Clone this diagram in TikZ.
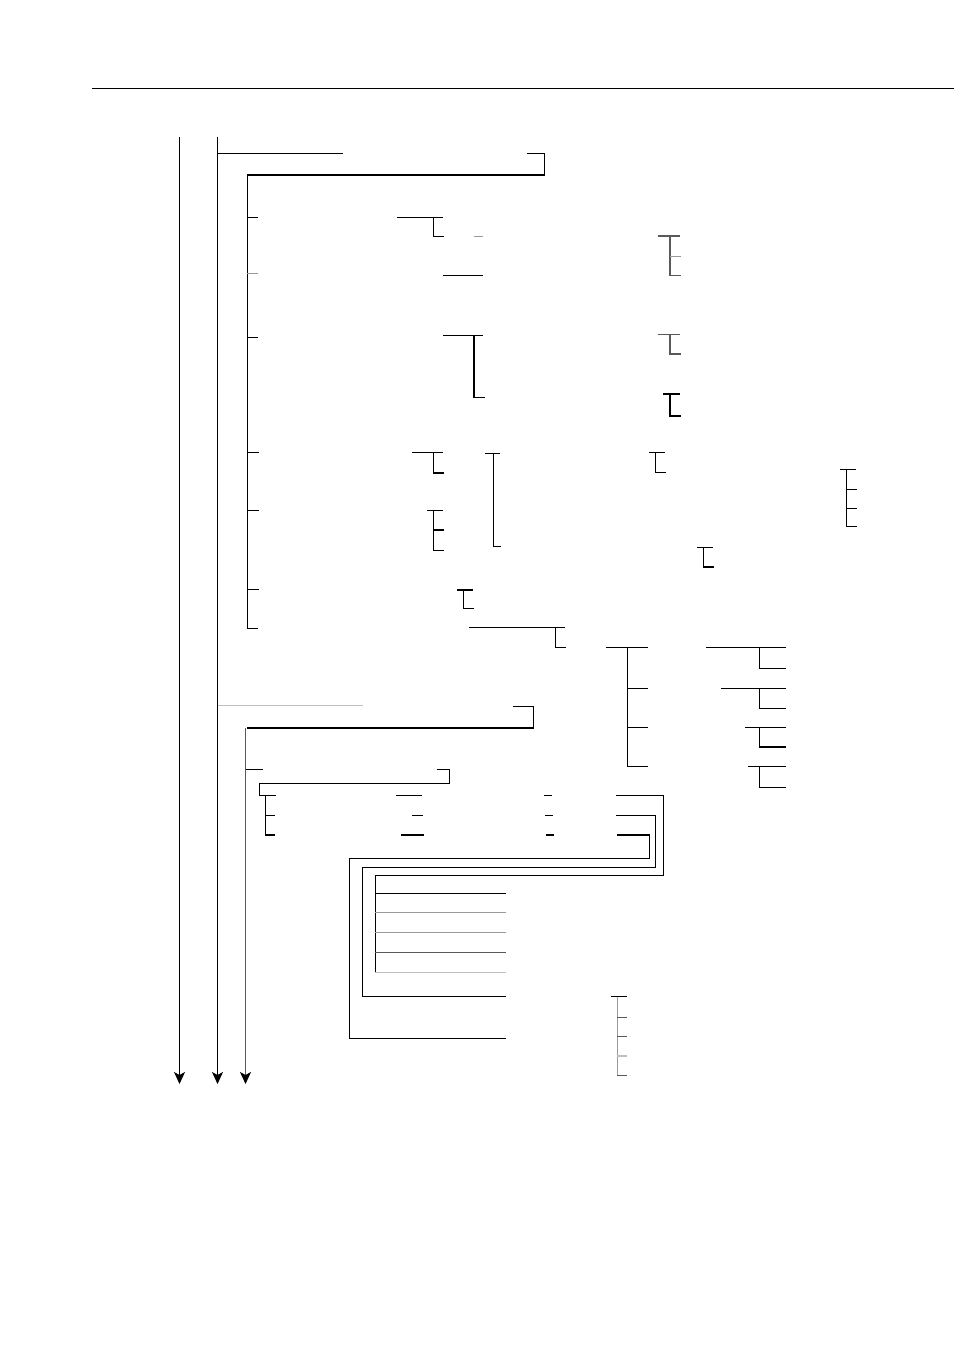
\documentclass[tikz,border=0pt]{standalone}
\usetikzlibrary{arrows.meta}
\definecolor{g1}{gray}{0.35}
\definecolor{g2}{gray}{0.6}
\definecolor{g3}{gray}{0.75}
\begin{document}
\begin{tikzpicture}[x=1pt,y=-1pt,line width=1.2pt,line cap=butt,
  arr/.style={-{Stealth[length=12pt,width=11pt,inset=3pt,color=black]}}]
\useasboundingbox (0,0) rectangle (954,1351);
% top rule
\draw (92,88.5) -- (954,88.5);
% main arrows
\coordinate (a1s) at (179.5,137); \coordinate (a1e) at (179.5,1084);
\coordinate (a2s) at (217.5,137); \coordinate (a2e) at (217.5,1084);
\coordinate (a3s) at (245.5,728); \coordinate (a3e) at (245.5,1084);
\draw[arr] (a1s) -- (a1e);
\draw[arr] (a2s) -- (a2e);
\draw[arr,draw=g1] (a3s) -- (a3e);
% first block
\draw (217.5,153.5) -- (343,153.5);
\draw (527,153.5) -- (544.3,153.5) -- (544.3,175) -- (247.3,175) -- (247.3,628.3) -- (258,628.3);
\draw (247.3,217.3) -- (258,217.3);
\draw (397,217.3) -- (443,217.3);
\draw (433.3,217.3) -- (433.3,236.3) -- (444,236.3);
\draw[g2] (474,236.3) -- (483,236.3);
\draw[g2] (247.3,273.7) -- (258,273.7);
\draw (443,275.3) -- (483,275.3);
% right small brackets
\draw[g1] (657.7,236) -- (680,236);
\draw[g1] (670,236) -- (670,275.3) -- (681,275.3);
\draw[g2] (670,256.7) -- (681,256.7);
\draw (247.3,337.5) -- (258,337.5);
\draw (443.3,335.3) -- (483,335.3);
\draw (474,335.3) -- (474,397.3) -- (485.3,397.3);
\draw[g1] (657.7,334.3) -- (680,334.3);
\draw[g1] (670,334.3) -- (670,354) -- (681,354);
\draw (663.3,394) -- (680,394);
\draw (670,394) -- (670,416) -- (681,416);
% middle section
\draw (247.3,452.3) -- (259,452.3);
\draw (412,452.3) -- (442.7,452.3);
\draw (433.3,452.3) -- (433.3,473) -- (443.7,473);
\draw (485,453.3) -- (499.7,453.3);
\draw (493.7,453.3) -- (493.7,546.3) -- (500.7,546.3);
\draw (247.3,510.3) -- (259,510.3);
\draw (427.3,510.3) -- (442.7,510.3);
\draw (433.3,510.3) -- (433.3,550.3) -- (444.3,550.3);
\draw (433.3,530) -- (444.3,530);
\draw (247.3,589.7) -- (259,589.7);
\draw (457.3,590) -- (472.7,590);
\draw (463.3,590) -- (463.3,608.3) -- (473.7,608.3);
\draw (649,452.3) -- (664.7,452.3);
\draw (655.3,452.3) -- (655.3,472.3) -- (665.7,472.3);
\draw (840,469.3) -- (856,469.3);
\draw (846.3,469.3) -- (846.3,526.3) -- (857,526.3);
\draw (846.3,489.3) -- (857,489.3);
\draw (846.3,508.3) -- (857,508.3);
\draw (697,547.3) -- (713,547.3);
\draw (703.3,547.3) -- (703.3,567) -- (713.7,567);
% lower-right tree
\draw (469.3,627.3) -- (564.7,627.3);
\draw (555.3,627.3) -- (555.3,647.3) -- (565.7,647.3);
\draw (606,647.3) -- (648,647.3);
\draw (627.7,647.3) -- (627.7,766.7) -- (648,766.7);
\draw (627.7,688.3) -- (648,688.3);
\draw (627.7,727.3) -- (648,727.3);
\draw (706,647.3) -- (785.7,647.3);
\draw (759.3,647.3) -- (759.3,668.3) -- (785.7,668.3);
\draw (721,688.3) -- (785.7,688.3);
\draw (759.3,688.3) -- (759.3,708.3) -- (785.7,708.3);
\draw (745,727.3) -- (785.7,727.3);
\draw (759.3,727.3) -- (759.3,747) -- (785.7,747);
\draw (748,766.7) -- (785.7,766.7);
\draw (759.3,766.7) -- (759.3,787.3) -- (785.7,787.3);
% second block
\draw[g3] (217.5,705.7) -- (363,705.7);
\draw (512.7,706.3) -- (533.7,706.3) -- (533.7,728) -- (246.7,728);
\draw (246,769.3) -- (262.7,769.3);
\draw (436.7,769.3) -- (449.3,769.3) -- (449.3,783.3) -- (259.3,783.3) -- (259.3,795.3) -- (276,795.3);
\draw (265.3,795.3) -- (265.3,835) -- (275.3,835);
\draw (265.3,815.3) -- (275.3,815.3);
\draw (396,795.3) -- (422,795.3);
\draw (412,815.3) -- (423,815.3);
\draw (401,835) -- (423.7,835);
\draw (544,795.3) -- (552,795.3);
\draw (545,815.3) -- (553,815.3);
\draw (546,835) -- (554,835);
% nested return paths
\draw (616,795.3) -- (663.3,795.3) -- (663.3,875.3) -- (375.3,875.3) -- (375.3,972.3);
\draw (616,815.3) -- (655.7,815.3) -- (655.7,867.3) -- (362.3,867.3) -- (362.3,996.7) -- (506,996.7);
\draw (617,835) -- (649.3,835) -- (649.3,858.3) -- (349.3,858.3) -- (349.3,1038.3) -- (506,1038.3);
\draw (375.3,893.3) -- (506,893.3);
\draw[g2] (375.3,912.7) -- (506,912.7);
\draw[g2] (375.3,932.3) -- (506,932.3);
\draw[g1] (375.3,952.3) -- (506,952.3);
\draw[g3] (375.3,972.3) -- (506,972.3);
% bottom-right bracket
\draw (611,996.7) -- (626.7,996.7);
\draw[g2] (617.3,996.7) -- (617.3,1075.7);
\draw[g1] (617.3,1075.7) -- (627,1075.7);
\draw[g1] (617.3,1017.3) -- (627,1017.3);
\draw[g1] (617.3,1036.7) -- (627,1036.7);
\draw[g3] (617.3,1056) -- (627,1056);
\end{tikzpicture}
\end{document}
